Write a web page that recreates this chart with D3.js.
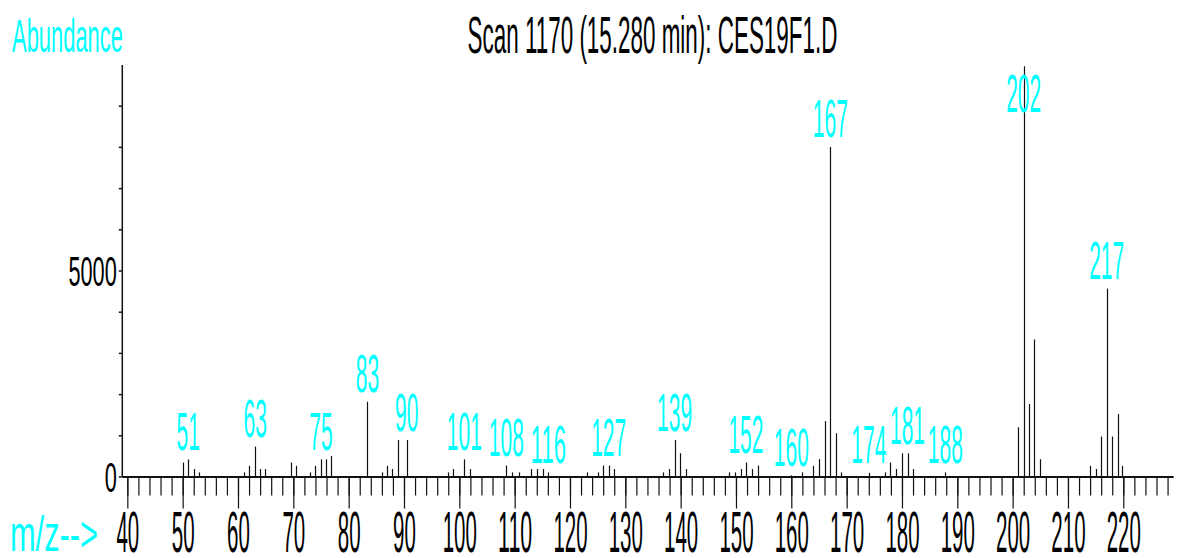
<!DOCTYPE html>
<html><head><meta charset="utf-8">
<script src="https://cdn.jsdelivr.net/npm/d3@7"></script>
<style>
body{margin:0;background:#fff}
svg{display:block}
text{font-family:"Liberation Sans",Arial,sans-serif}
</style>
</head><body>
<svg id="chart" width="1177" height="558"></svg>
<script>
// ---- data ----
const title = "Scan 1170 (15.280 min): CES19F1.D";
const yAxisTitle = "Abundance";
const xAxisTitle = "m/z-->";

const peakMz = [50.0, 51.0, 52.0, 53.0, 61.1, 62.05, 63.1, 63.9, 64.9, 69.5, 70.4, 73.0, 74.0, 75.0, 75.9, 76.8,
  83.4, 86.0, 86.9, 87.9, 88.9, 90.5, 97.9, 98.85, 100.9, 101.9, 108.5, 109.5, 110.8, 113.0, 114.0, 115.1, 116.1,
  123.0, 125.0, 126.0, 127.0, 128.0, 136.9, 137.85, 138.9, 139.9, 140.9, 148.8, 149.8, 150.9, 151.8, 152.85, 153.9,
  160.0, 162.0, 164.0, 165.0, 166.0, 167.05, 168.1, 169.0, 174.0, 176.9, 177.9, 178.9, 180.0, 181.0, 182.0, 187.85,
  201.0, 202.0, 202.9, 203.9, 204.9, 214.0, 215.0, 216.0, 217.0, 218.0, 219.0, 219.8];
const peakAbundance = [340, 415, 180, 100, 100, 260, 725, 180, 180, 340, 260, 100, 260, 415, 415, 495,
  1815, 100, 260, 180, 885, 885, 100, 180, 415, 180, 265, 100, 100, 180, 180, 180, 100,
  100, 100, 265, 265, 180, 100, 180, 885, 565, 180, 100, 100, 180, 340, 180, 265,
  30, 100, 260, 420, 1345, 8000, 1050, 100, 90, 100, 340, 180, 565, 565, 180, 100,
  1195, 9960, 1760, 3325, 420, 260, 180, 970, 4560, 970, 1515, 260];

const labelText = ["51","63","75","83","90","101","108","116","127","139","152","160","167","174","181","188","202","217"];
const labelMz = [51.0, 63.1, 75.0, 83.4, 90.5, 100.9, 108.5, 116.1, 127.0, 138.9, 151.8, 160.0, 167.05, 174.0, 181.0, 187.85, 202.0, 217.0];

const xMinorTicks = d3.range(40, 230, 2);
const xMajorTicks = [40, 50, 60, 70, 80, 90, 100, 110, 120, 130, 140, 150, 160, 170, 180, 190, 200, 210, 220];
const yTicks = [0, 1000, 2000, 3000, 4000, 5000, 6000, 7000, 8000, 9000];
const yTickLabels = [0, 5000];

// ---- drawing ----
const svg = d3.select("#chart");
const x = d3.scaleLinear().domain([39, 229]).range([121.8, 1173.1]);
const y = d3.scaleLinear().domain([0, 10000]).range([476.5, 64.5]);
const CYAN = "#00FFFF";
const FONT = '"Liberation Sans",Arial,sans-serif';

// squeeze a text horizontally to a target ink width, keeping its anchor point
function squeeze(sel, widthFn) {
  sel.each(function (d, i) {
    const t = d3.select(this);
    const tx = +t.attr("x") || 0, ty = +t.attr("y") || 0;
    const w = this.getComputedTextLength();
    const target = typeof widthFn === "function" ? widthFn(d, i) : widthFn;
    if (!w || !target) return;
    t.attr("x", 0).attr("y", 0).attr("dy", null)
     .attr("transform", `translate(${tx},${ty}) scale(${target / w},1)`);
  });
}

// bars
svg.append("g").selectAll("line").data(peakMz).join("line")
  .attr("x1", d => Math.round(x(d)) + 0.5).attr("x2", d => Math.round(x(d)) + 0.5)
  .attr("y1", y(0)).attr("y2", (d, i) => y(peakAbundance[i]))
  .attr("stroke", "#111").attr("stroke-width", 1.2);

// x axis: minor ticks
const gMinor = svg.append("g").attr("transform", `translate(0,${y(0)})`)
  .call(d3.axisBottom(x).tickValues(xMinorTicks).tickSize(19).tickSizeOuter(0).tickFormat(""));
gMinor.select(".domain").attr("stroke", "#111").attr("stroke-width", 2);
gMinor.selectAll(".tick line").attr("stroke", "#111").attr("stroke-width", 1.2);

// x axis: major ticks + labels
const gMajor = svg.append("g").attr("transform", `translate(0,${y(0)})`)
  .call(d3.axisBottom(x).tickValues(xMajorTicks).tickSize(32).tickSizeOuter(0).tickFormat(d3.format("d")));
gMajor.select(".domain").remove();
gMajor.selectAll(".tick line").attr("stroke", "#111").attr("stroke-width", 1.2);
gMajor.selectAll(".tick text")
  .attr("x", 0).attr("y", 75).attr("dy", null)
  .attr("font-size", 57).attr("fill", "#000").attr("font-family", FONT)
  .call(squeeze, d => String(d).length * 11.4);

// y axis
const gy = svg.append("g").attr("transform", `translate(${x(39)},0)`)
  .call(d3.axisLeft(y).tickValues(yTicks).tickSize(3).tickSizeOuter(0)
    .tickFormat(d => yTickLabels.includes(d) ? String(d) : ""));
gy.select(".domain").attr("stroke", "#111").attr("stroke-width", 1.5);
gy.selectAll(".tick line").attr("stroke", "#111").attr("stroke-width", 1.5);
gy.selectAll(".tick text").filter(d => !yTickLabels.includes(d)).remove();
gy.selectAll(".tick text")
  .attr("x", -5).attr("dy", null).attr("y", 15)
  .attr("font-size", 43).attr("fill", "#000").attr("font-family", FONT)
  .call(squeeze, d => String(d).length * 12.1);

// peak labels
function abundanceAt(mz) {
  let best = 0, bd = Infinity;
  peakMz.forEach((m, i) => { const dd = Math.abs(m - mz); if (dd < bd) { bd = dd; best = i; } });
  return peakAbundance[best];
}
svg.append("g").selectAll("text").data(labelText).join("text")
  .attr("x", (d, i) => x(labelMz[i]))
  .attr("y", (d, i) => Math.max(y(abundanceAt(labelMz[i])) - 9.5, 112))
  .attr("text-anchor", "middle")
  .attr("font-size", 53).attr("fill", CYAN)
  .text(d => d)
  .call(squeeze, d => d.length * 11.7);

// titles
svg.append("text").attr("x", 652.5).attr("y", 53.3).attr("text-anchor", "middle")
  .attr("font-size", 51).attr("fill", "#000").text(title)
  .call(squeeze, 370);
svg.append("text").attr("x", 12).attr("y", 51.7)
  .attr("font-size", 46.5).attr("fill", CYAN).text(yAxisTitle)
  .call(squeeze, 111);
svg.append("text").attr("x", 10).attr("y", 551)
  .attr("font-size", 50).attr("fill", CYAN).text(xAxisTitle)
  .call(squeeze, 88);
</script>
</body></html>
